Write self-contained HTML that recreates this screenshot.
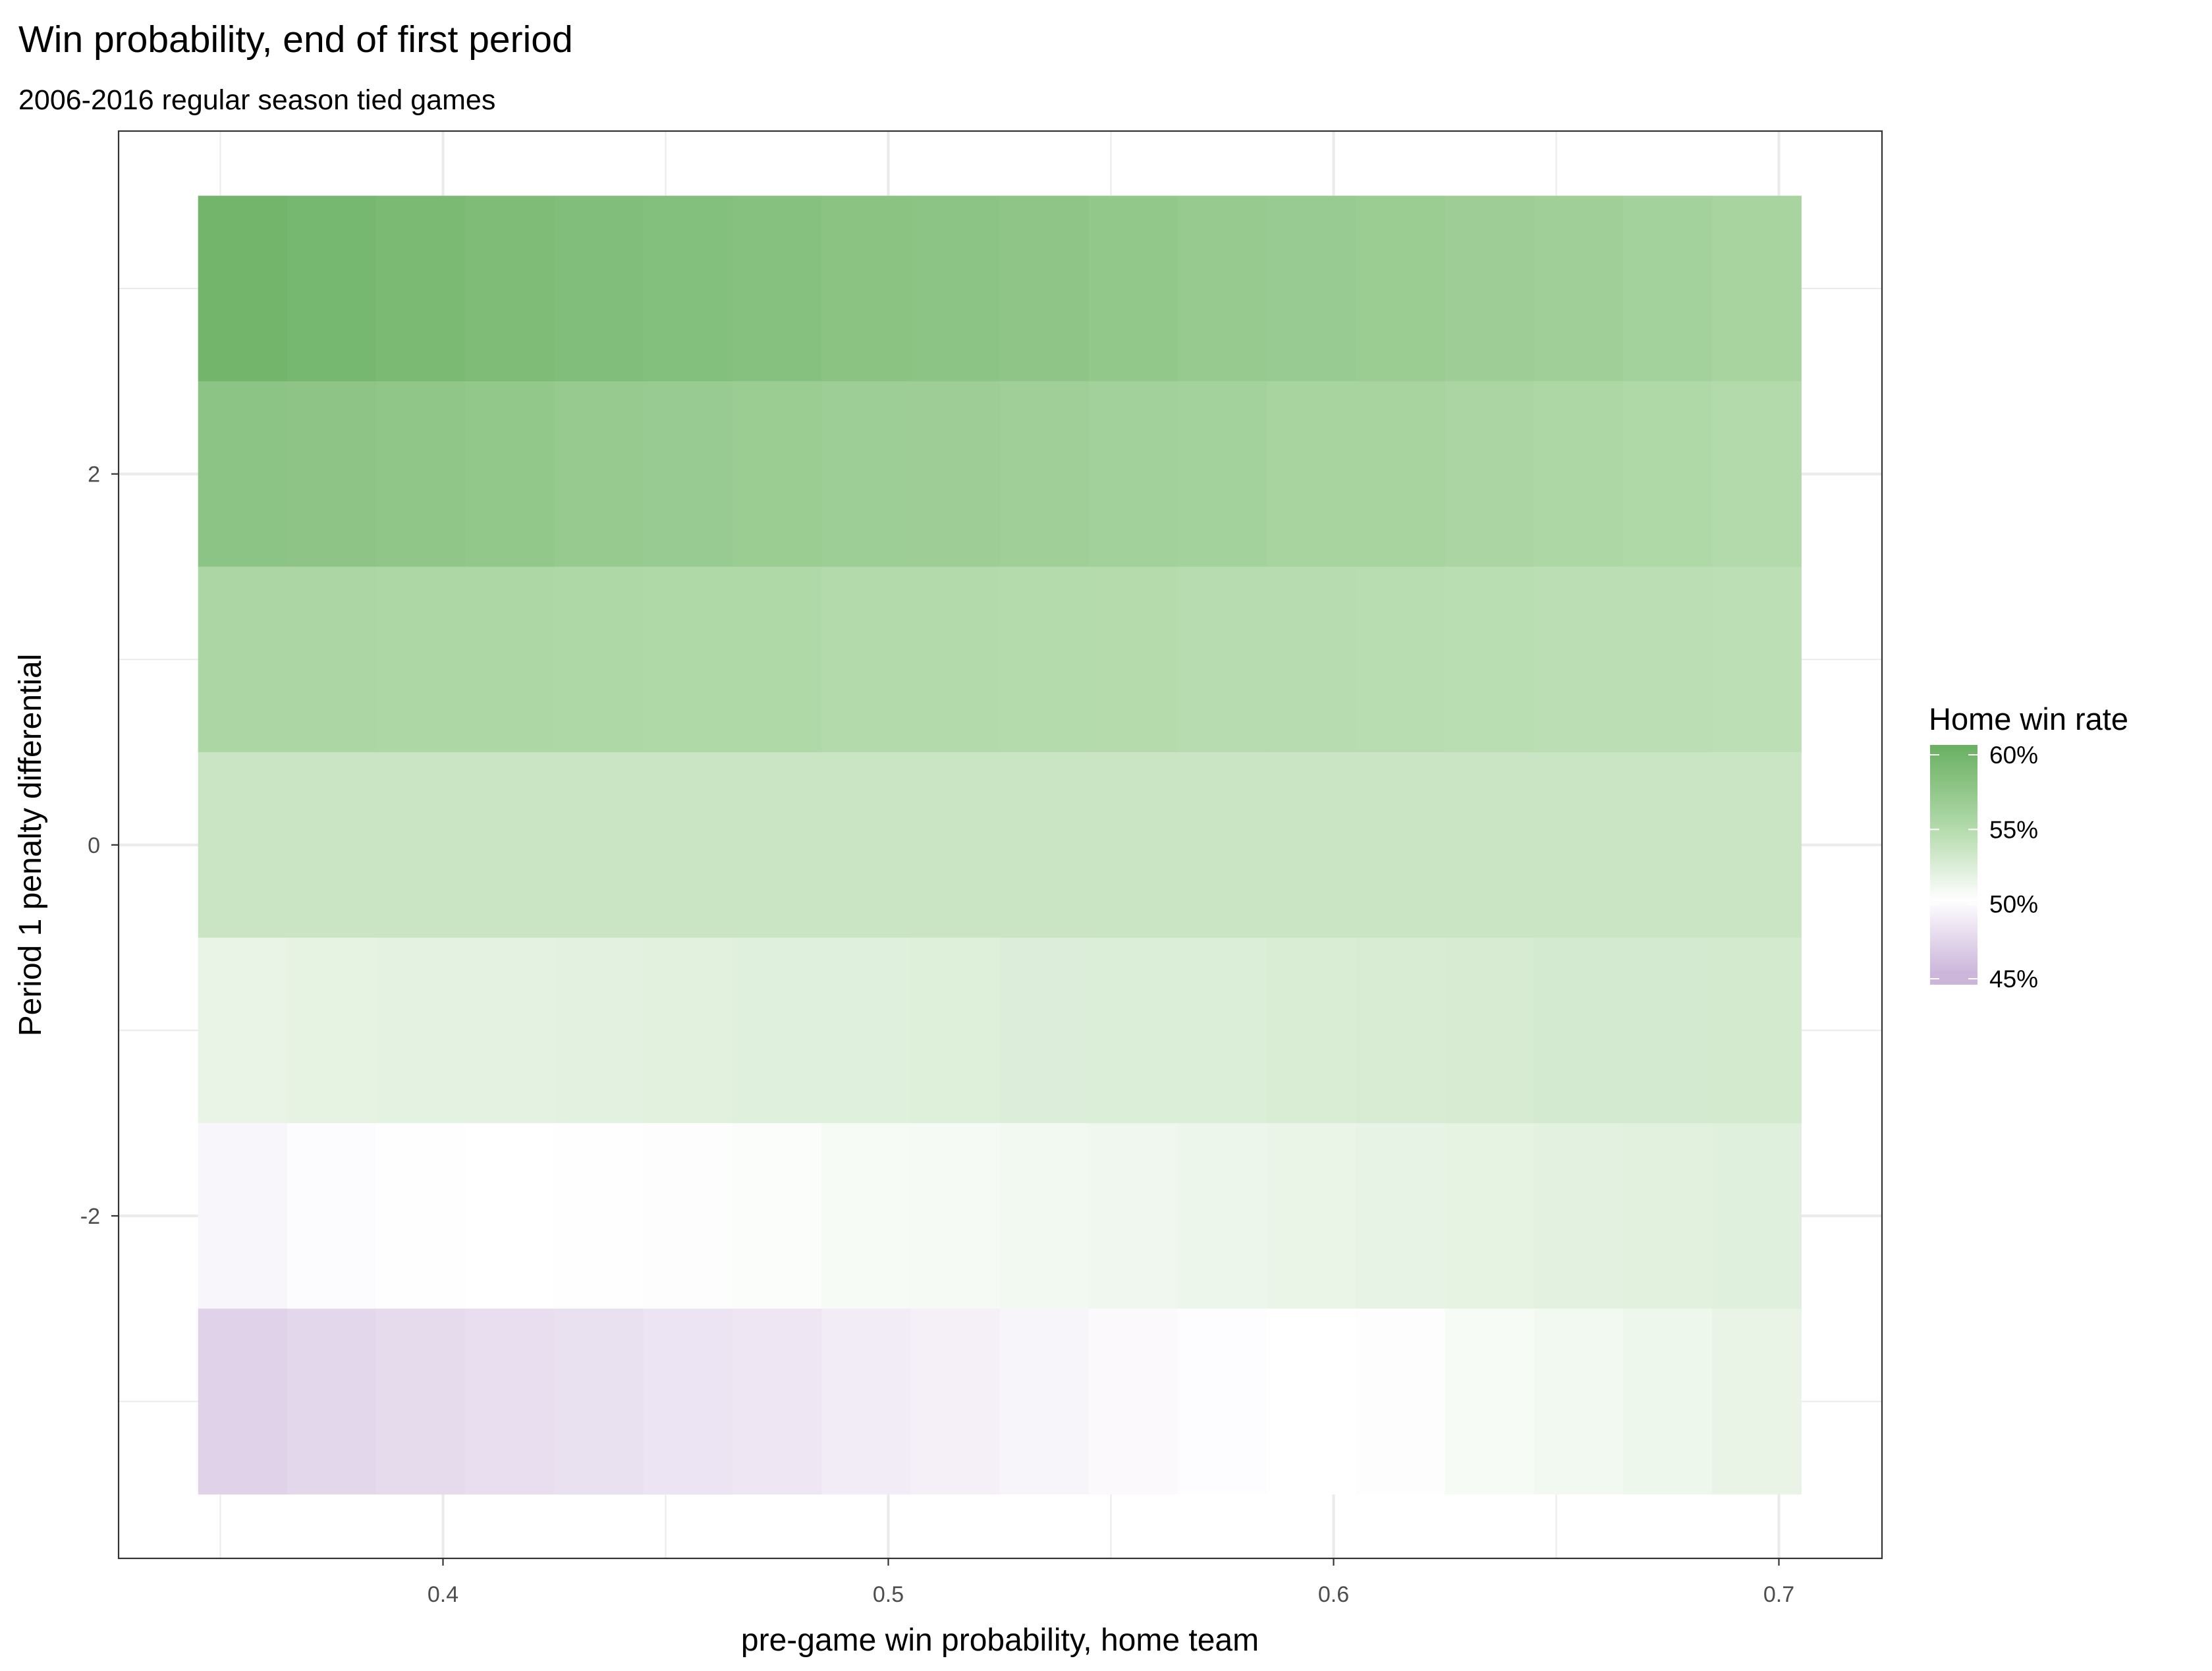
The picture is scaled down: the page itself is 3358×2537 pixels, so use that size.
<!DOCTYPE html>
<html><head><meta charset="utf-8">
<style>
html,body{margin:0;padding:0;background:#fff;}
svg{display:block;font-family:"Liberation Sans",Arial,sans-serif;}
</style></head>
<body>
<svg id="chart" width="3358" height="2537" viewBox="0 0 3358 2537" xmlns="http://www.w3.org/2000/svg">
<defs>
<linearGradient id="legGrad" x1="0" y1="1" x2="0" y2="0"></linearGradient>
</defs>
<rect x="0" y="0" width="3358" height="2537" fill="#fff"/>
<text x="28" y="79" font-size="57" fill="#000">Win probability, end of first period</text>
<text x="28" y="166" font-size="43" fill="#000">2006-2016 regular season tied games</text>
<g id="grid"></g>
<g id="tiles"></g>
<rect x="180" y="199" width="2677" height="2167" fill="none" stroke="#333" stroke-width="2.2"/>
<g id="axes"></g>
<text x="1518" y="2506" font-size="48" text-anchor="middle" fill="#000">pre-game win probability, home team</text>
<text transform="translate(62,1283) rotate(-90)" font-size="48" text-anchor="middle" fill="#000">Period 1 penalty differential</text>
<g id="legend">
<text x="2928" y="1108" font-size="47" fill="#000">Home win rate</text>
<rect x="2930" y="1131" width="72" height="364" fill="url(#legGrad)"/>
</g>
</svg>
<script>
const xCenters = [0.355,0.375,0.395,0.415,0.435,0.455,0.475,0.495,0.515,0.535,0.555,0.575,0.595,0.615,0.635,0.655,0.675,0.695];
const yRows = [3,2,1,0,-1,-2,-3];
const row3 = [0.597,0.594,0.591,0.588,0.585,0.583,0.581,0.579,0.578,0.575,0.572,0.570,0.568,0.566,0.564,0.562,0.559,0.557];
const row2 = [0.578,0.576,0.574,0.572,0.570,0.568,0.566,0.565,0.564,0.562,0.560,0.559,0.557,0.556,0.554,0.552,0.550,0.549];
const row1 = [0.553,0.553,0.552,0.552,0.551,0.550,0.550,0.549,0.549,0.548,0.547,0.546,0.546,0.545,0.544,0.543,0.543,0.542];
const row0 = [0.534,0.534,0.534,0.534,0.534,0.534,0.534,0.534,0.534,0.534,0.534,0.534,0.534,0.534,0.534,0.534,0.534,0.534];
const rowM1 = [0.514,0.516,0.517,0.517,0.518,0.519,0.520,0.520,0.521,0.522,0.523,0.523,0.524,0.525,0.526,0.527,0.527,0.528];
const rowM2 = [0.494,0.497,0.499,0.500,0.501,0.502,0.503,0.505,0.506,0.508,0.510,0.512,0.513,0.515,0.516,0.518,0.519,0.520];
const rowM3 = [0.470,0.473,0.476,0.478,0.480,0.482,0.484,0.487,0.490,0.493,0.496,0.498,0.500,0.502,0.505,0.508,0.511,0.514];
const rowValues = [row3,row2,row1,row0,rowM1,rowM2,rowM3];
const xTicks = [0.4,0.5,0.6,0.7];
const xTickLabels = ["0.4","0.5","0.6","0.7"];
const xMinor = [0.35,0.45,0.55,0.65];
const yTicks = [-2,0,2];
const yTickLabels = ["-2","0","2"];
const yMinor = [-3,-1,1,3];
const legendBreaks = [0.45,0.50,0.55,0.60];
const legendLabels = ["45%","50%","55%","60%"];

const NS="http://www.w3.org/2000/svg";
const tileW=0.02, tileH=1;
function sx(v){return 672.5+(v-0.4)*6760;}
function sy(v){return 1282.8-v*281.6;}
function ly(v){return 1146+(0.60-v)/0.15*340;}
const stops=[[0.45,[203,181,218]],[0.50,[255,255,255]],[0.55,[176,217,168]],[0.60,[110,179,103]]];
function color(v){
  if(v<=stops[0][0]) return rgb(stops[0][1]);
  for(let i=0;i<stops.length-1;i++){
    const a=stops[i],b=stops[i+1];
    if(v<=b[0]){const t=(v-a[0])/(b[0]-a[0]);return rgb(a[1].map((c,k)=>c+(b[1][k]-c)*t));}
  }
  const a=stops[2],b=stops[3],t=(v-a[0])/(b[0]-a[0]);
  return rgb(a[1].map((c,k)=>Math.max(0,Math.min(255,c+(b[1][k]-c)*t))));
}
function rgb(a){return "rgb("+a.map(c=>Math.round(c)).join(",")+")";}
function mk(tag,attrs,parent){const e=document.createElementNS(NS,tag);for(const k in attrs)e.setAttribute(k,attrs[k]);parent.appendChild(e);return e;}

const grid=document.getElementById("grid");
xMinor.forEach(v=>{const l=mk("line",{x1:sx(v),x2:sx(v),y1:199,y2:2366,stroke:"#ebebeb","stroke-width":2},grid);

});
yMinor.forEach(v=>{const l=mk("line",{x1:180,x2:2857,y1:sy(v),y2:sy(v),stroke:"#ebebeb","stroke-width":2},grid);

});
xTicks.forEach(v=>{const l=mk("line",{x1:sx(v),x2:sx(v),y1:199,y2:2366,stroke:"#ebebeb","stroke-width":4.2},grid);

});
yTicks.forEach(v=>{const l=mk("line",{x1:180,x2:2857,y1:sy(v),y2:sy(v),stroke:"#ebebeb","stroke-width":4.2},grid);

});

const tiles=document.getElementById("tiles");
yRows.forEach((yv,ri)=>{
  rowValues[ri].forEach((val,ci)=>{
    const xc=xCenters[ci];
    const x0=sx(xc-tileW/2), x1=sx(xc+tileW/2);
    const y0=sy(yv+tileH/2), y1=sy(yv-tileH/2);
    const r=mk("rect",{x:x0,y:y0,width:x1-x0+0.6,height:y1-y0+0.6,fill:color(val)},tiles);
    
    
  });
});

const axes=document.getElementById("axes");
xTicks.forEach((v,i)=>{
  const t=mk("line",{x1:sx(v),x2:sx(v),y1:2366,y2:2377,stroke:"#333","stroke-width":2.2},axes);
  
  
  const tx=mk("text",{x:sx(v),y:2432,"font-size":34,"text-anchor":"middle",fill:"#4d4d4d"},axes);
  tx.textContent=xTickLabels[i];
  
  
});
yTicks.forEach((v,i)=>{
  const t=mk("line",{x1:169,x2:180,y1:sy(v),y2:sy(v),stroke:"#333","stroke-width":2.2},axes);
  
  
  const tx=mk("text",{x:152,y:sy(v)+12,"font-size":34,"text-anchor":"end",fill:"#4d4d4d"},axes);
  tx.textContent=yTickLabels[i];
  
  
});

const grad=document.getElementById("legGrad");
for(let i=0;i<=20;i++){
  const v=0.443+(0.604-0.443)*i/20;
  mk("stop",{offset:(i/20*100)+"%","stop-color":color(v)},grad);
}
const legend=document.getElementById("legend");
legendBreaks.forEach((v,i)=>{
  const y=ly(v);
  const a=mk("line",{x1:2930,x2:2944,y1:y,y2:y,stroke:"#fff","stroke-width":2},legend);
  
  
  const b=mk("line",{x1:2988,x2:3002,y1:y,y2:y,stroke:"#fff","stroke-width":2},legend);
  
  
  const tx=mk("text",{x:3020,y:y+13,"font-size":37,fill:"#000"},legend);
  tx.textContent=legendLabels[i];
  
  
});
</script>
</body></html>
